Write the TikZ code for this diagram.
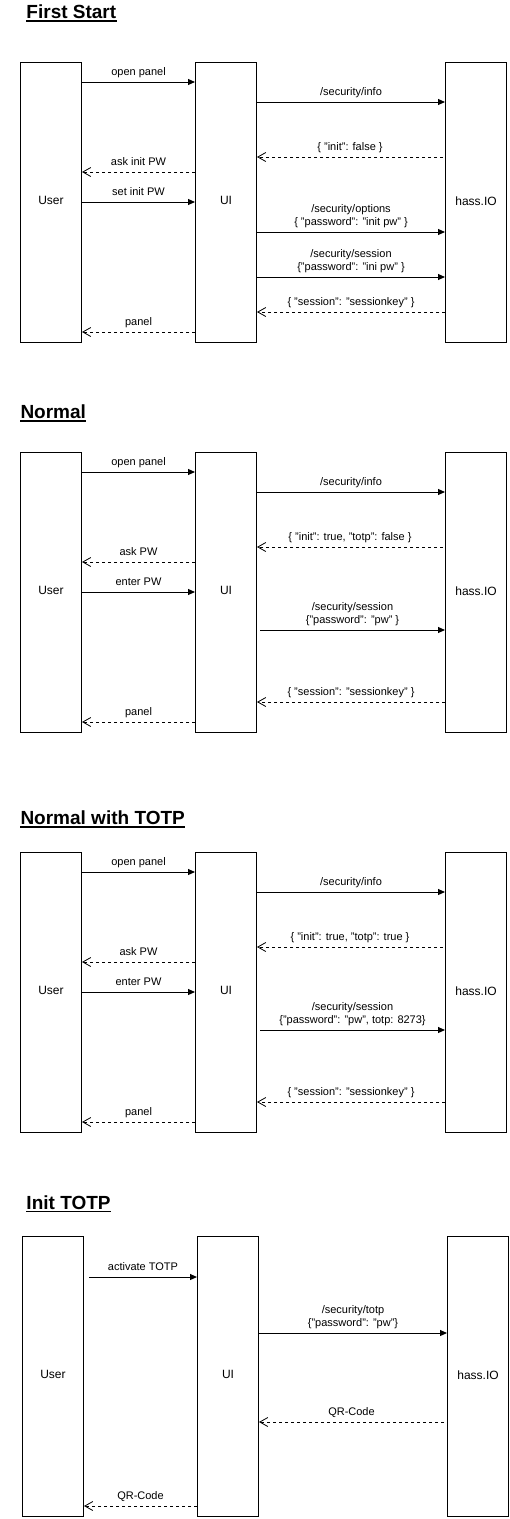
\documentclass[tikz,border=0pt]{standalone}
\usepackage{fontspec}
\setmainfont{Liberation Sans}
\usetikzlibrary{arrows.meta}

\tikzset{
  lifeline/.style={draw, anchor=north west, inner sep=0pt, minimum width=61, minimum height=280, text depth=3.5pt, font=\fontsize{12}{14}\selectfont},
  heading/.style={anchor=base west, inner sep=0pt, font=\fontsize{19}{22}\selectfont\bfseries},
  call/.style={-{Triangle[length=7pt,width=6pt]}},
  reply/.style={dash pattern=on 3pt off 3pt, -{Straight Barb[length=8pt,width=9pt,line width=0.8pt]}},
  lbl/.style={above, inner sep=0pt, yshift=3.5pt, text depth=2.5pt, align=center, font=\fontsize{11}{13}\selectfont}
}

\begin{document}
\begin{tikzpicture}[x=1pt, y=-1pt, line width=1pt]
\useasboundingbox (0,0) rectangle (510,1519);

% First Start
\node[heading] (head1) at (26,18.5) {First Start};
\draw[line width=1.5pt] ([yshift=-2.5pt]head1.base west) -- ([yshift=-2.5pt]head1.base east);

\node[lifeline] (user1) at (20,62) {User};
\node[lifeline] (ui1) at (195,62) {UI};
\node[lifeline] (hass1) at (445,62) {hass.IO};

\draw[call] ([yshift=-20pt]user1.north east) -- node[lbl]{open panel} ([yshift=-20pt]ui1.north west);
\draw[call] ([yshift=-40pt]ui1.north east) -- node[lbl]{/security/info} ([yshift=-40pt]hass1.north west);
\draw[reply] ([xshift=-2pt,yshift=-95pt]hass1.north west) -- node[lbl]{\{ "init": false \}} ([yshift=-95pt]ui1.north east);
\draw[reply] ([yshift=-110pt]ui1.north west) -- node[lbl]{ask init PW} ([yshift=-110pt]user1.north east);
\draw[call] ([yshift=-140pt]user1.north east) -- node[lbl]{set init PW} ([yshift=-140pt]ui1.north west);
\draw[call] ([yshift=-170pt]ui1.north east) -- node[lbl]{/security/options\\\{ "password": "init pw" \}} ([yshift=-170pt]hass1.north west);
\draw[call] ([yshift=-215pt]ui1.north east) -- node[lbl]{/security/session\\\{"password": "ini pw" \}} ([yshift=-215pt]hass1.north west);
\draw[reply] ([yshift=-250pt]hass1.north west) -- node[lbl]{\{ "session": "sessionkey" \}} ([yshift=-250pt]ui1.north east);
\draw[reply] ([yshift=-270pt]ui1.north west) -- node[lbl]{panel} ([yshift=-270pt]user1.north east);

% Normal
\node[heading] (head2) at (20,418.5) {Normal};
\draw[line width=1.5pt] ([yshift=-2.5pt]head2.base west) -- ([yshift=-2.5pt]head2.base east);

\node[lifeline] (user2) at (20,452) {User};
\node[lifeline] (ui2) at (195,452) {UI};
\node[lifeline] (hass2) at (445,452) {hass.IO};

\draw[call] ([yshift=-20pt]user2.north east) -- node[lbl]{open panel} ([yshift=-20pt]ui2.north west);
\draw[call] ([yshift=-40pt]ui2.north east) -- node[lbl]{/security/info} ([yshift=-40pt]hass2.north west);
\draw[reply] ([xshift=-2pt,yshift=-95pt]hass2.north west) -- node[lbl]{\{ "init": true, "totp": false \}} ([yshift=-95pt]ui2.north east);
\draw[reply] ([yshift=-110pt]ui2.north west) -- node[lbl]{ask PW} ([yshift=-110pt]user2.north east);
\draw[call] ([yshift=-140pt]user2.north east) -- node[lbl]{enter PW} ([yshift=-140pt]ui2.north west);
\draw[call] ([xshift=3pt,yshift=-178pt]ui2.north east) -- node[lbl]{/security/session\\\{"password": "pw" \}} ([yshift=-178pt]hass2.north west);
\draw[reply] ([yshift=-250pt]hass2.north west) -- node[lbl]{\{ "session": "sessionkey" \}} ([yshift=-250pt]ui2.north east);
\draw[reply] ([yshift=-270pt]ui2.north west) -- node[lbl]{panel} ([yshift=-270pt]user2.north east);

% Normal with TOTP
\node[heading] (head3) at (20,824.5) {Normal with TOTP};
\draw[line width=1.5pt] ([yshift=-2.5pt]head3.base west) -- ([yshift=-2.5pt]head3.base east);

\node[lifeline] (user3) at (20,852) {User};
\node[lifeline] (ui3) at (195,852) {UI};
\node[lifeline] (hass3) at (445,852) {hass.IO};

\draw[call] ([yshift=-20pt]user3.north east) -- node[lbl]{open panel} ([yshift=-20pt]ui3.north west);
\draw[call] ([yshift=-40pt]ui3.north east) -- node[lbl]{/security/info} ([yshift=-40pt]hass3.north west);
\draw[reply] ([xshift=-2pt,yshift=-95pt]hass3.north west) -- node[lbl]{\{ "init": true, "totp": true \}} ([yshift=-95pt]ui3.north east);
\draw[reply] ([yshift=-110pt]ui3.north west) -- node[lbl]{ask PW} ([yshift=-110pt]user3.north east);
\draw[call] ([yshift=-140pt]user3.north east) -- node[lbl]{enter PW} ([yshift=-140pt]ui3.north west);
\draw[call] ([xshift=3pt,yshift=-178pt]ui3.north east) -- node[lbl]{/security/session\\\{"password": "pw", totp: 8273\}} ([yshift=-178pt]hass3.north west);
\draw[reply] ([yshift=-250pt]hass3.north west) -- node[lbl]{\{ "session": "sessionkey" \}} ([yshift=-250pt]ui3.north east);
\draw[reply] ([yshift=-270pt]ui3.north west) -- node[lbl]{panel} ([yshift=-270pt]user3.north east);

% Init TOTP
\node[heading] (head4) at (26,1209) {Init TOTP};
\draw[line width=1.5pt] ([yshift=-2.5pt]head4.base west) -- ([yshift=-2.5pt]head4.base east);

\node[lifeline] (user4) at (22,1236) {User};
\node[lifeline] (ui4) at (197,1236) {UI};
\node[lifeline] (hass4) at (447,1236) {hass.IO};

\draw[call] ([xshift=5pt,yshift=-41pt]user4.north east) -- node[lbl]{activate TOTP} ([yshift=-41pt]ui4.north west);
\draw[call] ([yshift=-97pt]ui4.north east) -- node[lbl]{/security/totp\\\{"password": "pw"\}} ([yshift=-97pt]hass4.north west);
\draw[reply] ([xshift=-3pt,yshift=-186pt]hass4.north west) -- node[lbl]{QR-Code} ([yshift=-186pt]ui4.north east);
\draw[reply] ([yshift=-270pt]ui4.north west) -- node[lbl]{QR-Code} ([yshift=-270pt]user4.north east);

\end{tikzpicture}
\end{document}
